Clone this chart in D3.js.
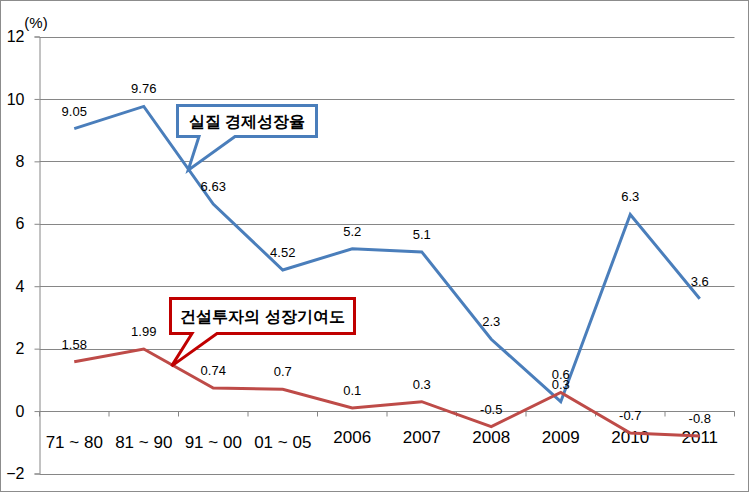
<!DOCTYPE html>
<html>
<head>
<meta charset="utf-8">
<script src="https://cdn.jsdelivr.net/npm/d3@7"></script>
<style>
body{margin:0;background:#fff;}
svg text{font-family:"Liberation Sans",Arial,sans-serif;}
</style>
</head>
<body>
<svg id="chart" width="749" height="492"></svg>
<script>
// 자료
var categories = ["71 ~ 80","81 ~ 90","91 ~ 00","01 ~ 05","2006","2007","2008","2009","2010","2011"];
var growth = [9.05,9.76,6.63,4.52,5.2,5.1,2.3,0.3,6.3,3.6];          // 실질 경제성장율
var construct = [1.58,1.99,0.74,0.7,0.1,0.3,-0.5,0.6,-0.7,-0.8];      // 건설투자의 성장기여도
var yTicks = [-2,0,2,4,6,8,10,12];

var svg = d3.select("#chart");
var plotL = 39.5, plotR = 734.5, plotT = 36.5, plotB = 473.5;

var x = d3.scaleBand().domain(categories).range([plotL,plotR]);
var y = d3.scaleLinear().domain([-2,12]).range([plotB,plotT]);
var cx = function(d){ return x(d)+x.bandwidth()/2; };
// 카테고리 인덱스(소수) -> 픽셀
var xi = function(i){ return plotL + x.bandwidth()*(i+0.5); };

// 외곽선
svg.append("rect").attr("x",0.5).attr("y",0.5).attr("width",748).attr("height",491)
	.attr("fill","#fff").attr("stroke","#8c8c8c");

// 격자
svg.append("g")
	.selectAll("line")
	.data(yTicks)
	.enter()
	.append("line")
	.attr("x1",plotL).attr("x2",plotR)
	.attr("y1",function(d){ return Math.round(y(d))+0.5; })
	.attr("y2",function(d){ return Math.round(y(d))+0.5; })
	.attr("stroke","#868686");

// y축
var yAxis = d3.axisLeft(y).tickValues(yTicks).tickSize(5).tickPadding(10);
var gy = svg.append("g").attr("transform","translate("+plotL+",0)").call(yAxis);
gy.select(".domain").attr("stroke","#868686");
gy.selectAll(".tick line").attr("stroke","#868686");
gy.selectAll(".tick text").attr("font-size","16px").attr("fill","#000")
	.attr("font-family","Liberation Sans, Arial, sans-serif");

svg.append("text").attr("x",36).attr("y",28).attr("text-anchor","middle")
	.attr("font-size","15px").text("(%)");

// x축 (0 위치)
var y0 = Math.round(y(0))+0.5;
svg.append("line").attr("x1",plotL).attr("x2",plotR).attr("y1",y0).attr("y2",y0).attr("stroke","#868686");
svg.append("g")
	.selectAll("line")
	.data(d3.range(categories.length+1))
	.enter()
	.append("line")
	.attr("x1",function(d){ return plotL+d*x.bandwidth(); })
	.attr("x2",function(d){ return plotL+d*x.bandwidth(); })
	.attr("y1",y0).attr("y2",y0+5)
	.attr("stroke","#868686");

svg.append("g")
	.selectAll("text")
	.data(categories)
	.enter()
	.append("text")
	.attr("x",cx)
	.attr("y",function(d,i){ return i<4 ? 448 : 443; })
	.attr("text-anchor","middle")
	.attr("font-size","17px")
	.text(function(d){ return d; });

// 선
var line = d3.line()
	.x(function(d,i){ return cx(categories[i]); })
	.y(function(d){ return y(d); });

svg.append("path").datum(growth).attr("d",line)
	.attr("fill","none").attr("stroke","#4A7EBB").attr("stroke-width",3);
svg.append("path").datum(construct).attr("d",line)
	.attr("fill","none").attr("stroke","#BE4B48").attr("stroke-width",3);

// 데이터 레이블
function labels(data){
	svg.append("g")
		.selectAll("text")
		.data(data)
		.enter()
		.append("text")
		.attr("x",function(d,i){ return cx(categories[i]); })
		.attr("y",function(d){ return y(d)-13; })
		.attr("text-anchor","middle")
		.attr("font-size","13px")
		.text(function(d){ return d; });
}
labels(growth);
labels(construct);

// 말풍선
function callout(tipI,tipV,bx0,by0,bx1,by1,p0,p1,color,txt){
	var tx = xi(tipI), ty = y(tipV);
	var path = "M"+bx0+","+by0+"H"+bx1+"V"+by1+"H"+p1+"L"+tx+","+ty+"L"+p0+","+by1+"H"+bx0+"Z";
	svg.append("path").attr("d",path).attr("fill","#fff").attr("stroke",color)
		.attr("stroke-width",3).attr("stroke-linejoin","miter");
	svg.append("text").attr("x",(bx0+bx1)/2).attr("y",(by0+by1)/2+6)
		.attr("text-anchor","middle").attr("font-size","16px").attr("font-weight","bold")
		.attr("font-family","Noto Sans CJK KR, sans-serif")
		.text(txt);
}
callout(1.64,7.72,177.5,105.5,316.5,136.5,199,235,"#4A7EBB","실질 경제성장율");
callout(1.40,1.44,170.5,298.5,354.5,333.5,192,217,"#C00000","건설투자의 성장기여도");
</script>
</body>
</html>
